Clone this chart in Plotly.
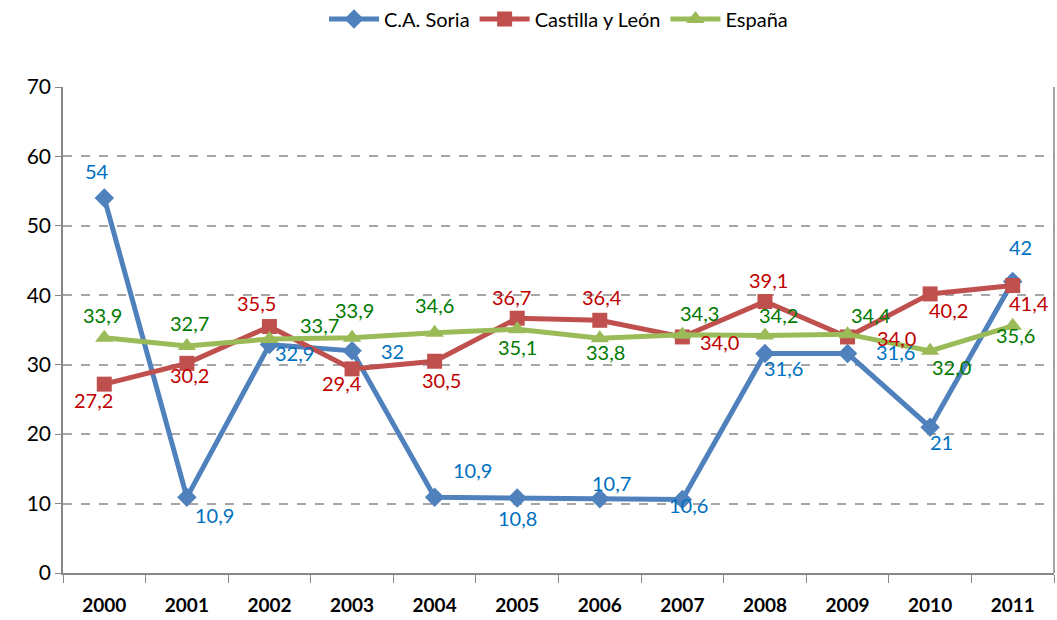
import plotly.graph_objects as go

years = ["2000","2001","2002","2003","2004","2005","2006","2007","2008","2009","2010","2011"]
soria = [54, 10.9, 32.9, 32, 10.9, 10.8, 10.7, 10.6, 31.6, 31.6, 21, 42]
cyl = [27.2, 30.2, 35.5, 29.4, 30.5, 36.7, 36.4, 34.0, 39.1, 34.0, 40.2, 41.4]
espana = [33.9, 32.7, 33.7, 33.9, 34.6, 35.1, 33.8, 34.3, 34.2, 34.4, 32.0, 35.6]

soria_txt = ["54","10,9","32,9","32","10,9","10,8","10,7","10,6","31,6","31,6","21","42"]
cyl_txt = ["27,2","30,2","35,5","29,4","30,5","36,7","36,4","34,0","39,1","34,0","40,2","41,4"]
esp_txt = ["33,9","32,7","33,7","33,9","34,6","35,1","33,8","34,3","34,2","34,4","32,0","35,6"]

# label offsets in pixels (dx, dy up)
soria_off = [(-7,27),(28,-18),(25,-8),(40,0),(38,27),(0,-20),(12,16),(6,-6),(19,-14),(48,2),(11,-15),(8,34)]
cyl_off = [(-11,-16),(3,-12),(-13,24),(-10,-14),(7,-19),(-6,21),(2,23),(37,-5),(4,22),(49,-1),(18,-16),(16,-17)]
esp_off = [(-2,23),(3,23),(50,14),(2,28),(0,28),(0,-18),(6,-14),(17,22),(14,21),(23,19),(21,-16),(3,-9)]

FONT = "Lato"
fig = go.Figure()
fig.add_trace(go.Scatter(x=years, y=soria, name="C.A. Soria", mode="lines+markers",
                         line=dict(color="#4F81BD", width=5),
                         marker=dict(symbol="diamond", size=15, color="#4F81BD")))
fig.add_trace(go.Scatter(x=years, y=cyl, name="Castilla y León", mode="lines+markers",
                         line=dict(color="#C0504D", width=5),
                         marker=dict(symbol="square", size=15, color="#C0504D")))
fig.add_trace(go.Scatter(x=years, y=espana, name="España", mode="lines+markers",
                         line=dict(color="#9BBB59", width=5),
                         marker=dict(symbol="triangle-up", size=16, color="#9BBB59")))

anns = []
for vals, txts, offs, col in [(soria, soria_txt, soria_off, "#0070C0"),
                              (cyl, cyl_txt, cyl_off, "#C00000"),
                              (espana, esp_txt, esp_off, "#007A00")]:
    for i, (yv, t, (dx, dy)) in enumerate(zip(vals, txts, offs)):
        anns.append(dict(x=i, y=yv, xref="x", yref="y", text=t, showarrow=False,
                         xshift=dx, yshift=dy,
                         font=dict(family=FONT, size=20, color=col)))

fig.update_layout(
    width=1057, height=620,
    margin=dict(l=63, r=3, t=87, b=47),
    plot_bgcolor="white", paper_bgcolor="white",
    font=dict(family=FONT, size=20, color="black"),
    annotations=anns,
    showlegend=True,
    legend=dict(orientation="h", x=0.5, xanchor="center", y=1 - 19 / 620, yref="container",
                yanchor="middle", font=dict(family=FONT, size=20),
                traceorder="normal", itemwidth=50),
    shapes=[dict(type="line", xref="paper", yref="paper", x0=1, x1=1, y0=0, y1=1,
                 line=dict(color="#868686", width=1.5))],
)
fig.update_xaxes(type="category", range=[-0.5, 11.5], showline=True, linecolor="#868686",
                 linewidth=1.5, ticks="outside", tickson="boundaries", ticklen=8,
                 tickcolor="#868686", showgrid=False,
                 tickfont=dict(family=FONT, size=19, color="black", weight="bold"),
                 ticklabelstandoff=14)
fig.update_yaxes(range=[0, 70], dtick=10, showline=True, linecolor="#868686", linewidth=1.5,
                 ticks="outside", ticklen=6, tickcolor="#868686",
                 showgrid=True, gridcolor="#A6A6A6", griddash="dash", gridwidth=1.5,
                 zeroline=False, tickfont=dict(family=FONT, size=21, color="black"))
fig.write_html("out.html", config={"displayModeBar": False},
               post_script="document.body.style.margin='0';document.body.style.overflow='hidden';")
